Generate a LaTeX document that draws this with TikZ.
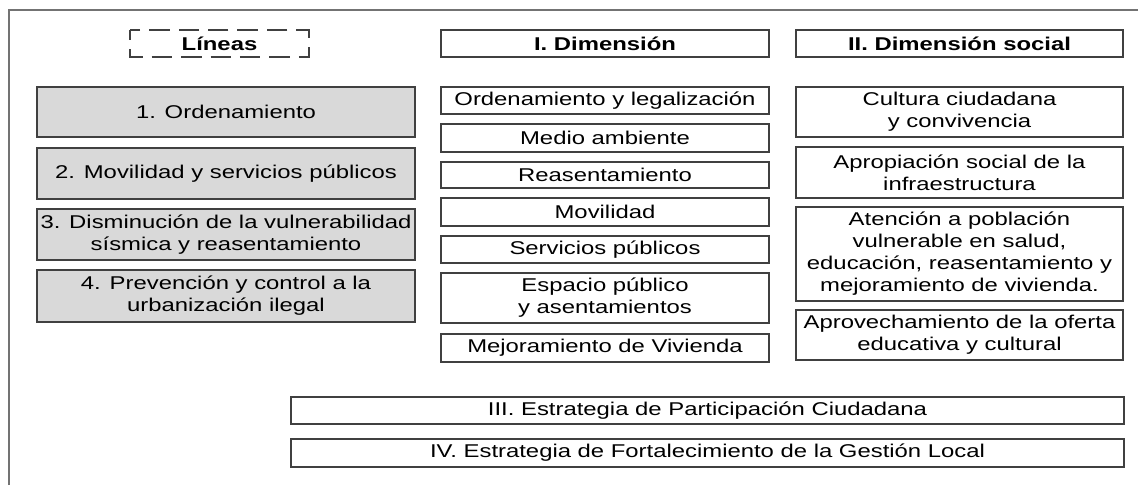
\documentclass[tikz,border=0pt]{standalone}
\usepackage{fontspec}
\setmainfont{Liberation Sans}[FakeStretch=1.29]
\usetikzlibrary{calc}

\tikzset{
    marco/.style={draw=black!55,line width=1.2pt},
    caja/.style={draw=black!75,line width=1.2pt},
    gris/.style={caja,fill=black!15},
    rayas/.style={draw=black!75,line width=1.2pt,dash pattern=on 20.43pt off 9pt,dash phase=10.2pt},
    texto/.style={align=center,inner sep=0pt,font=\fontsize{18.5}{22}\selectfont},
}

\newcommand{\Caja}[5][caja]{%
    \draw[#1] (#3) rectangle (#4);
    \node[texto] (#2) at ($(#3)!0.5!(#4)$) {#5};
}

\begin{document}
\begin{tikzpicture}[x=1pt,y=-1pt]
        \useasboundingbox (0,0) rectangle (1138,485);
        \draw[marco] (9,485) -- (9,10) -- (1138,10);
        % cabeceras
        \Caja[rayas]{lineas}{130,30}{309,57}{\textbf{Líneas}};
        \Caja{dimA}{441,30}{769,57}{\textbf{I. Dimensión}};
        \Caja{dimB}{796,30}{1123,57}{\textbf{II. Dimensión social}};
        % lineas
        \Caja[gris]{lin1}{37,87}{415,137}{1. Ordenamiento};
        \Caja[gris]{lin2}{37,148}{415,199}{2. Movilidad y servicios públicos};
        \Caja[gris]{lin3}{37,209}{415,260}{3. Disminución de la vulnerabilidad\\sísmica y reasentamiento};
        \Caja[gris]{lin4}{37,270}{415,322}{4. Prevención y control a la\\urbanización ilegal};
        % dimension I
        \Caja{dA1}{441,87}{769,114}{Ordenamiento y legalización};
        \Caja{dA2}{441,124}{769,152}{Medio ambiente};
        \Caja{dA3}{441,162}{769,188}{Reasentamiento};
        \Caja{dA4}{441,198}{769,226}{Movilidad};
        \Caja{dA5}{441,236}{769,263}{Servicios públicos};
        \Caja{dA6}{441,273}{769,323}{Espacio público\\y asentamientos};
        \Caja{dA7}{441,334}{769,362}{Mejoramiento de Vivienda};
        % dimension II
        \Caja{dB1}{796,87}{1123,137}{Cultura ciudadana\\y convivencia};
        \Caja{dB2}{796,147}{1123,198}{Apropiación social de la\\infraestructura};
        \Caja{dB3}{796,207}{1123,301}{Atención a población\\vulnerable en salud,\\educación, reasentamiento y\\mejoramiento de vivienda.};
        \Caja{dB4}{796,310}{1123,360}{Aprovechamiento de la oferta\\educativa y cultural};
        % estrategias
        \Caja{estIII}{291,397}{1124,424}{III. Estrategia de Participación Ciudadana};
        \Caja{estIV}{291,439}{1124,467}{IV. Estrategia de Fortalecimiento de la Gestión Local};
\end{tikzpicture}
\end{document}
